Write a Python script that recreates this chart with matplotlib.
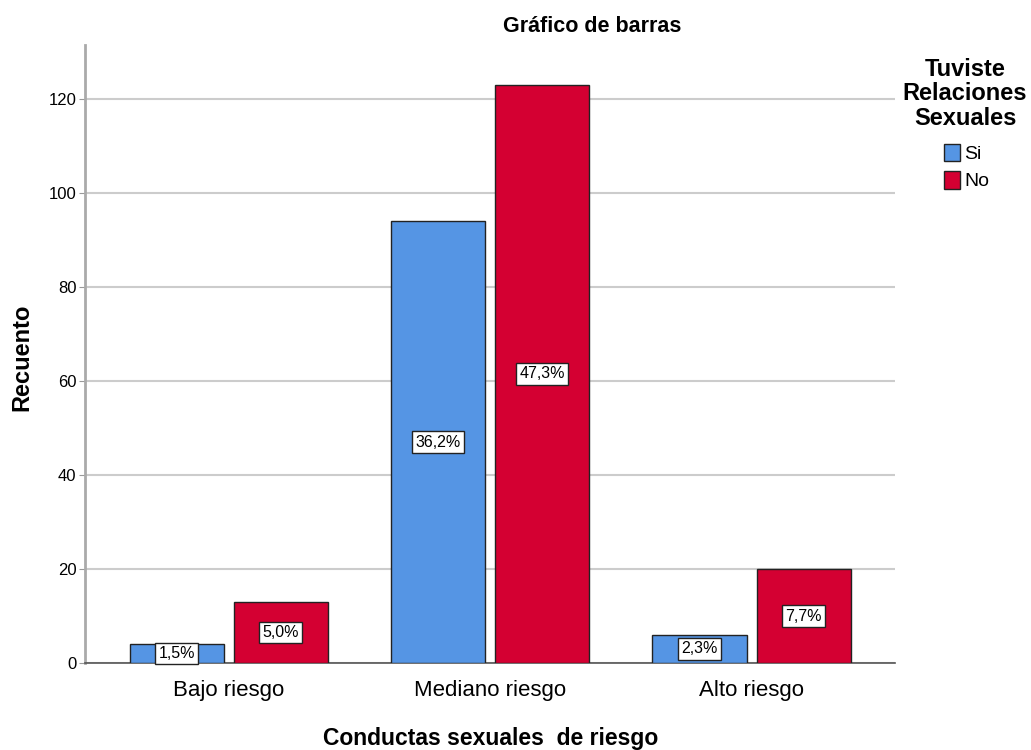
import matplotlib
matplotlib.use("Agg")
import matplotlib.pyplot as plt
import numpy as np
from matplotlib.patches import Patch

categories = ["Bajo riesgo", "Mediano riesgo", "Alto riesgo"]
series_names = ["Si", "No"]
si_values = [4, 94, 6]
no_values = [13, 123, 20]
si_pct = ["1,5%", "36,2%", "2,3%"]
no_pct = ["5,0%", "47,3%", "7,7%"]
yticks = [0, 20, 40, 60, 80, 100, 120]

blue = "#5595E4"
red = "#D40032"

plt.rcParams['font.family'] = ['Liberation Sans', 'DejaVu Sans']

fig = plt.figure(figsize=(10.31, 7.5), dpi=100)
ax = fig.add_axes([0.0824, 0.116, 0.786, 0.824])

x = np.arange(len(categories))
w = 0.36
off = 0.199
b1 = ax.bar(x - off, si_values, w, color=blue, edgecolor="#222222", linewidth=1.0, zorder=3)
b2 = ax.bar(x + off, no_values, w, color=red, edgecolor="#222222", linewidth=1.0, zorder=3)

for bars, labels in ((b1, si_pct), (b2, no_pct)):
    for b, lab in zip(bars, labels):
        ax.text(b.get_x() + b.get_width() / 2, b.get_height() / 2, lab,
                ha="center", va="center", fontsize=11.5, zorder=5,
                bbox=dict(boxstyle="square,pad=0.2", fc="white", ec="#222222", lw=1.0))

ax.set_xlim(-0.55, 2.55)
ax.set_ylim(0, 131.5)
ax.set_yticks(yticks)
ax.set_yticklabels([str(v) for v in yticks], fontsize=12)
ax.set_xticks(x)
ax.set_xticklabels(categories, fontsize=16)
ax.tick_params(axis="x", length=0, pad=12)
ax.tick_params(axis="y", length=4, color="#999999", pad=2)
ax.yaxis.grid(True, color="#cccccc", linewidth=1.5, zorder=0)
ax.set_axisbelow(True)
for s in ("top", "right"):
    ax.spines[s].set_visible(False)
ax.spines["left"].set_color("#aaaaaa")
ax.spines["left"].set_linewidth(2)
ax.spines["bottom"].set_color("#555555")
ax.spines["bottom"].set_linewidth(1.2)

fig.text(592 / 1031, 1 - 26 / 750, "Gráfico de barras", ha="center", va="center",
         fontsize=15.5, fontweight="bold")
fig.text(491 / 1031, 1 - 738 / 750, "Conductas sexuales  de riesgo", ha="center", va="center",
         fontsize=16.5, fontweight="bold")
fig.text(22 / 1031, 1 - 357 / 750, "Recuento", ha="center", va="center", rotation=90,
         fontsize=17, fontweight="bold")

fig.text(965 / 1031, 1 - 94 / 750, "Tuviste\nRelaciones\nSexuales", ha="center", va="center",
         fontsize=17, fontweight="bold", linespacing=1.1)
handles = [Patch(facecolor=blue, edgecolor="#222222"), Patch(facecolor=red, edgecolor="#222222")]
leg = fig.legend(handles, series_names, loc="upper left", bbox_to_anchor=(944 / 1031, 1 - 144 / 750),
                 frameon=False, handlelength=0.8, handleheight=1.0,
                 handletextpad=0.25, labelspacing=0.4, borderaxespad=0, borderpad=0,
                 prop={'size': 14})

fig.savefig("out.png", dpi=100)
